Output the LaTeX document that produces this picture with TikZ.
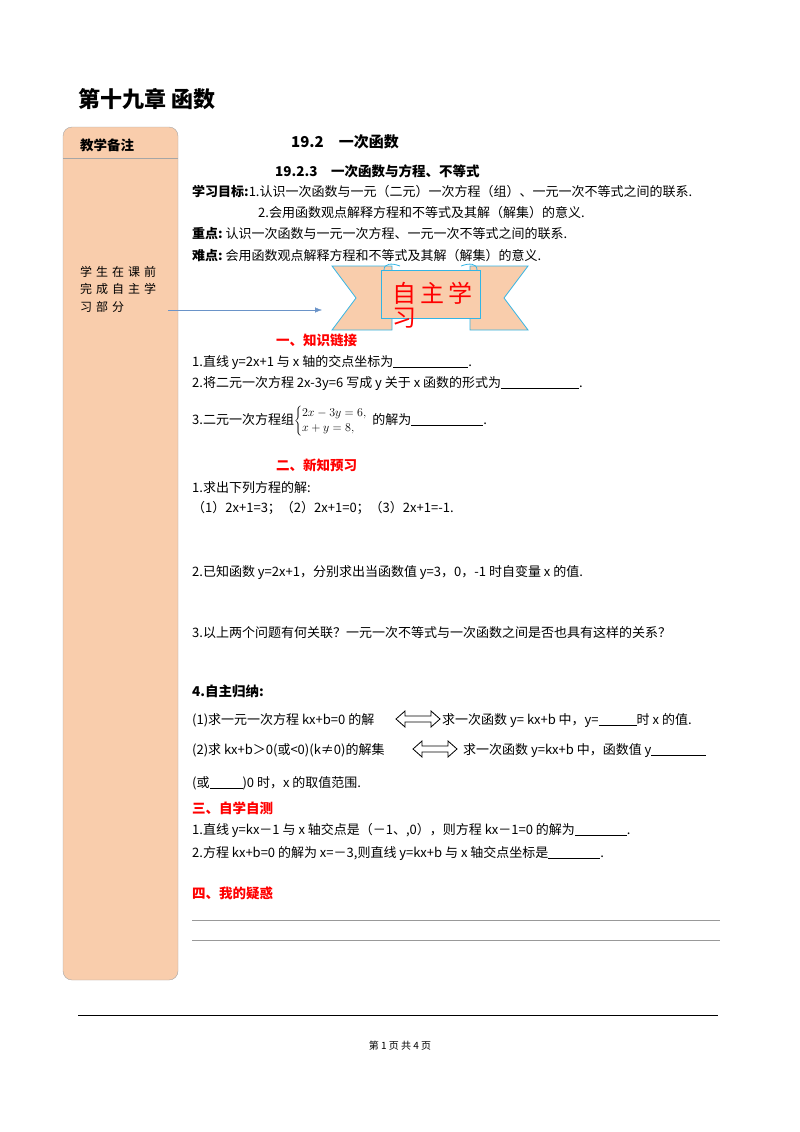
\documentclass[tikz,border=0pt]{standalone}
\usepackage{fontspec}
\setmainfont{Liberation Serif}
\newfontfamily\cjk{Noto Sans CJK SC}
\usetikzlibrary{arrows.meta}
\definecolor{peach}{HTML}{F9CDAC}
\definecolor{ribblue}{HTML}{33B5E5}
\definecolor{arrblue}{HTML}{6A93C8}
\definecolor{redt}{HTML}{FF0000}
\tikzset{
 t/.style={anchor=base west,inner sep=0pt,font=\fontsize{13}{15}\selectfont\cjk},
 h/.style={t,font=\fontsize{13.5}{15}\selectfont\cjk\bfseries},
 rh/.style={h,text=redt},
 darr/.style={thick,fill=white,line join=miter},
 pic double arrow/.pic={\draw[darr] (-22,0) -- (-13,-8) -- (-13,-3) -- (13,-3) -- (13,-8) -- (22,0) -- (13,8) -- (13,3) -- (-13,3) -- (-13,8) -- cycle;}
}
\newcommand{\bl}[1]{\rule[-2pt]{#1pt}{0.6pt}}
\begin{document}
\begin{tikzpicture}[x=1pt,y=-1pt]
\useasboundingbox (0,0) rectangle (800,1132);
% title
\node[t,font=\fontsize{22}{24}\selectfont\cjk\bfseries] (title) at (78,107) {第十九章\ 函数};
% sidebar
\draw[gray!70,fill=peach,rounded corners=9pt] (63,127) rectangle (178,980);
\draw[gray!70] (63,158) -- (178,158);
\node[h] (note) at (80,150) {教学备注};
\node[t,align=left,anchor=north west,font=\fontsize{12}{17.5}\selectfont\cjk] (side) at (80,266) {学\,\,生\,\,在\,\,课\,\,前\\完\,\,成\,\,自\,\,主\,\,学\\习\,\,部\,\,分};
% headings
\node[h,anchor=base,font=\fontsize{15}{17}\selectfont\cjk\bfseries] (sec) at (345,147) {19.2\quad 一次函数};
\node[h] (sub) at (275,176) {19.2.3\quad 一次函数与方程、不等式};
\node[t] (g1) at (192,196) {\bfseries 学习目标:\mdseries 1.认识一次函数与一元（二元）一次方程（组）、一元一次不等式之间的联系.};
\node[t] (g2) at (258,217) {2.会用函数观点解释方程和不等式及其解（解集）的意义.};
\node[t] (k1) at (192,238) {\bfseries 重点:\mdseries\ 认识一次函数与一元一次方程、一元一次不等式之间的联系.};
\node[t] (k2) at (192,260) {\bfseries 难点:\mdseries\ 会用函数观点解释方程和不等式及其解（解集）的意义.};
% banner
\draw[ribblue,thick,fill=peach] (332,266) -- (392,266) -- (392,330) -- (332,330) -- (356,298) -- cycle;
\draw[ribblue,thick,fill=peach] (528,266) -- (470,266) -- (470,330) -- (528,330) -- (504,298) -- cycle;
\draw[ribblue,thick,fill=peach] (381,270) rectangle (480,318);
\draw[ribblue,thick] (384,270) .. controls (384,263) and (392,263) .. (400,266);
\draw[ribblue,thick] (477,270) .. controls (477,263) and (469,263) .. (461,266);
\node[t,font=\fontsize{24}{24}\selectfont\cjk,text=redt,anchor=base west] (ban) at (392,302) {自\,主\,学};
\node[t,font=\fontsize{24}{24}\selectfont\cjk,text=redt,anchor=base west] (ban2) at (392,326) {习};
\coordinate (arrs) at (168,310);
\coordinate (arre) at (322,310);
\draw[arrblue,-{Latex[length=7pt]}] (arrs) -- (arre);
% part one
\node[rh] (p1) at (276,345) {一、知识链接};
\node[t] (a1) at (192,366) {1.直线 y=2x+1 与 x 轴的交点坐标为\bl{75}.};
\node[t] (a2) at (192,387) {2.将二元一次方程 2x-3y=6 写成 y 关于 x 函数的形式为\bl{78}.};
\node[t] (a3) at (192,424) {3.二元一次方程组$\left\{\begin{array}{@{}l}\fontsize{14}{16}\selectfont 2x-3y=6,\\\fontsize{14}{16}\selectfont x+y=8,\end{array}\right.$的解为\bl{72}.};
% part two
\node[rh] (p2) at (276,470) {二、新知预习};
\node[t] (b1) at (192,492) {1.求出下列方程的解:};
\node[t] (b2) at (192,512) {（1）2x+1=3；（2）2x+1=0；（3）2x+1=-1.};
\node[t] (b3) at (192,576) {2.已知函数 y=2x+1，分别求出当函数值 y=3，0，-1 时自变量 x 的值.};
\node[t] (b4) at (192,637) {3.以上两个问题有何关联？一元一次不等式与一次函数之间是否也具有这样的关系？};
\node[h] (b5) at (192,696) {4.自主归纳:};
\node[t] (c1) at (192,724) {(1)求一元一次方程 kx+b=0 的解};
\pic at (418,719) {pic double arrow};
\node[t] (c1b) at (442,724) {求一次函数 y=\ kx+b 中，y=\bl{38}时 x 的值.};
\node[t] (c2) at (192,754) {(2)求 kx+b＞0(或<0)(k≠0)的解集};
\pic at (435,749) {pic double arrow};
\node[t] (c2b) at (463,754) {求一次函数 y=kx+b 中，函数值 y\bl{55}};
\node[t] (c3) at (192,787) {(或\bl{33})0 时，x 的取值范围.};
% part three
\node[rh] (p3) at (192,813) {三、自学自测};
\node[t] (d1) at (192,834) {1.直线 y=kx－1 与 x 轴交点是（－1、,0），则方程 kx－1=0 的解为\bl{52}.};
\node[t] (d2) at (192,857) {2.方程 kx+b=0 的解为 x=－3,则直线 y=kx+b 与 x 轴交点坐标是\bl{52}.};
\node[rh] (p4) at (192,898) {四、我的疑惑};
\coordinate (l1a) at (192,920); \coordinate (l1b) at (720,920);
\coordinate (l2a) at (192,940); \coordinate (l2b) at (720,940);
\draw[gray!80] (l1a) -- (l1b);
\draw[gray!80] (l2a) -- (l2b);
% footer
\coordinate (fa) at (78,1015); \coordinate (fb) at (718,1015);
\draw[thick] (fa) -- (fb);
\node[t,anchor=base,font=\fontsize{10}{12}\selectfont\cjk] (foot) at (400,1049) {第\ 1\ 页\ 共\ 4\ 页};
\end{tikzpicture}
\end{document}
